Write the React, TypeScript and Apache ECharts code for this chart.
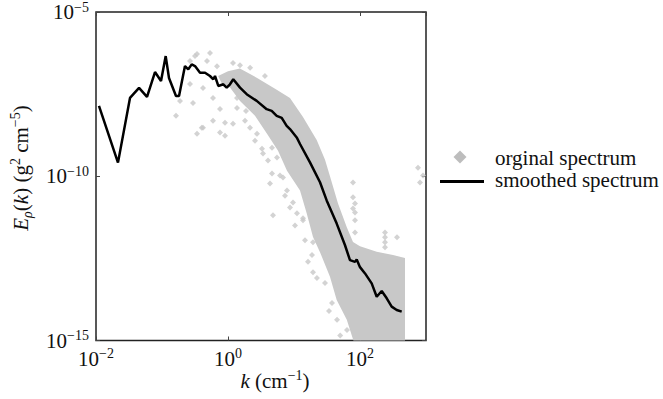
import React, { useEffect, useRef } from 'react';
import * as echarts from 'echarts';

// All values are log10 exponents.
// Smoothed spectrum: log10(k) and log10(E)
const smoothLogK = [
  -1.955, -1.667, -1.485, -1.348, -1.227, -1.106, -1.015, -0.944, -0.894, -0.788,
  -0.742, -0.652, -0.602, -0.55, -0.5, -0.424, -0.348, -0.273, -0.223, -0.197,
  -0.147, -0.071, -0.02, 0.03, 0.08, 0.182, 0.283, 0.435, 0.586, 0.662,
  0.738, 0.814, 0.889, 0.939, 1.041, 1.091, 1.242, 1.394, 1.495, 1.647,
  1.773, 1.848, 1.924, 1.95, 2.0, 2.076, 2.177, 2.253, 2.329, 2.405,
  2.48, 2.556, 2.632,
];
const smoothLogE = [
  -7.858, -9.585, -7.615, -7.312, -7.585, -6.827, -7.1, -6.342, -7.009, -7.555,
  -7.555, -6.645, -6.745, -6.594, -6.645, -6.848, -6.848, -6.948, -7.048, -6.948,
  -7.252, -7.2, -7.303, -7.2, -7.048, -7.303, -7.503, -7.706, -7.958, -8.009,
  -8.161, -8.221, -8.464, -8.564, -8.818, -9.018, -9.576, -10.182, -10.736, -11.442,
  -12.1, -12.555, -12.606, -12.533, -12.767, -12.958, -13.261, -13.667, -13.494, -13.715,
  -13.97, -14.07, -14.121,
];

// Outline of the dense cloud of original spectrum points (upper edge, then lower edge back)
const bandLogK = [
  -0.15, 0.0, 0.18, 0.435, 0.738, 0.939, 1.136, 1.344, 1.47, 1.545,
  1.667, 1.8, 1.894, 2.0, 2.253, 2.5, 2.682, 2.682, 1.9, 1.8,
  1.647, 1.545, 1.394, 1.288, 1.192, 1.091, 0.894, 0.758, 0.591, 0.409,
  0.182, 0.03, -0.1,
];
const bandLogE = [
  -6.95, -6.8, -6.72, -7.0, -7.37, -7.62, -8.2, -8.9, -9.5, -10.0,
  -10.83, -11.55, -12.0, -12.13, -12.3, -12.4, -12.49, -15.0, -15.0, -14.37,
  -13.77, -13.06, -12.31, -11.85, -11.13, -10.43, -9.83, -9.22, -8.71, -8.16,
  -7.71, -7.3, -7.15,
];

// Sparse original spectrum points outside the dense cloud
const scatterLogK = [
  -0.788, -0.53, -0.379, -0.227, -0.121, -0.045, 0.076, -0.379, -0.227, 0.136,
  -0.5, -0.318, -0.167, -0.576, -0.47, -0.045, 0.636, 0.667, 0.742, 1.894,
  1.894, 0.667, 0.439, 0.333, 0.53, -0.576, -0.47, 1.924, 1.924, 1.924,
  1.924, 2.379, 2.379, 2.379, 2.379, 2.561, 2.955, 2.879, 2.909, 0.833,
  0.985, 1.045, 1.136, 0.894, 1.288, 1.273, 1.288, 1.47, 1.576, 1.652,
  1.803, 0.682, 0.939, 1.136, 1.894, 0.273, 0.136, 0.076, 0.182, -0.273,
  -0.727, -0.121, -0.398, 0.258, 0.409, 0.515, 0.606, 0.788, 0.864, 1.015,
  1.167, 1.212, 1.348, 1.53, 1.7, 0.335, 0.56,
];
const scatterLogE = [
  -8.16, -7.77, -8.52, -8.31, -7.95, -8.37, -8.4, -7.31, -7.62, -7.92,
  -6.34, -6.49, -6.65, -7.19, -8.71, -8.77, -10.22, -9.92, -9.43, -10.19,
  -10.64, -9.13, -8.71, -8.52, -9.31, -6.49, -6.28, -10.83, -11.1, -11.34,
  -11.71, -11.71, -11.86, -12.01, -12.16, -11.86, -9.98, -9.74, -10.19, -10.04,
  -10.8, -11.13, -11.28, -10.43, -12.01, -12.4, -12.92, -13.25, -13.86, -14.37,
  -14.68, -11.19, -10.95, -11.34, -10.98, -8.01, -7.62, -6.55, -6.62, -6.25,
  -7.71, -8.67, -8.52, -8.31, -8.92, -9.16, -9.52, -9.98, -10.59, -11.5,
  -11.95, -12.6, -13.1, -14.1, -14.85, -6.7, -6.95,
];

const xTickExps = [-2, 0, 2];
const yTickExps = [-5, -10, -15];
const legendNames = ['orginal spectrum', 'smoothed spectrum'];

const SERIF = '"Liberation Serif", "Times New Roman", serif';
const INK = '#111';
const GREY = '#c8c8c8';

const expText = (e: number) => (e < 0 ? '\u2212' + Math.abs(e) : String(e));

const tickRich = {
  b: { fontFamily: SERIF, fontSize: 21, lineHeight: 24, color: INK },
  s: { fontFamily: SERIF, fontSize: 14, lineHeight: 14, color: INK, verticalAlign: 'top' },
};

export default function App() {
  const ref = useRef<HTMLDivElement>(null);

  useEffect(() => {
    if (!ref.current) return;
    const chart = echarts.init(ref.current, undefined, { renderer: 'svg' });

    const fmt = (list: number[]) => (v: number) => {
      const e = Math.round(v);
      if (Math.abs(v - e) > 1e-6 || list.indexOf(e) < 0) return '';
      return `{b|10}{s|${expText(e)}}`;
    };

    const baseAxis = {
      type: 'value',
      axisLine: { show: false, onZero: false },
      splitLine: { show: false },
      axisTick: { inside: true, length: 4, lineStyle: { color: '#444', width: 1 } },
    };

    const option: any = {
      animation: false,
      backgroundColor: '#fff',
      grid: {
        left: 96, top: 10.5, width: 330, height: 330,
        show: true, borderColor: '#222', borderWidth: 1.5, backgroundColor: 'transparent',
      },
      xAxis: [
        {
          ...baseAxis, position: 'bottom', min: -2, max: 3, interval: 2,
          axisLabel: { formatter: fmt(xTickExps), rich: tickRich, margin: 6, showMaxLabel: false },
        },
        {
          ...baseAxis, position: 'top', min: -2, max: 3, interval: 2,
          axisLabel: { show: false },
        },
      ],
      yAxis: [
        {
          ...baseAxis, position: 'left', min: -15, max: -5, interval: 5,
          axisLabel: { formatter: fmt(yTickExps), rich: tickRich, margin: 7 },
        },
        {
          ...baseAxis, position: 'right', min: -15, max: -5, interval: 5,
          axisLabel: { show: false },
        },
      ],
      series: [
        {
          type: 'custom',
          name: legendNames[0],
          z: 1,
          silent: true,
          data: bandLogK.map((k, i) => [k, bandLogE[i]]),
          renderItem: (params: any, api: any) => {
            if (params.dataIndex !== 0) return null;
            const pts = bandLogK.map((k, i) => api.coord([k, bandLogE[i]]));
            return { type: 'polygon', shape: { points: pts }, style: { fill: GREY } };
          },
        },
        {
          type: 'scatter',
          name: legendNames[0],
          z: 2,
          symbol: 'diamond',
          symbolSize: 6,
          itemStyle: { color: GREY },
          data: scatterLogK.map((k, i) => [k, scatterLogE[i]]),
        },
        {
          type: 'line',
          name: legendNames[1],
          z: 3,
          showSymbol: false,
          symbol: 'none',
          lineStyle: { color: '#000', width: 2.5 },
          data: smoothLogK.map((k, i) => [k, smoothLogE[i]]),
        },
      ],
      graphic: [
        {
          type: 'text',
          x: 21, y: 168,
          rotation: Math.PI / 2,
          style: {
            text: '{i|E}{sub|\u03C1}{n|(}{i|k}{n|) (g}{sup|2}{n| cm}{sup|\u22125}{n|)}',
            align: 'center',
            verticalAlign: 'middle',
            fill: INK,
            rich: {
              i: { fontFamily: SERIF, fontSize: 21, fontStyle: 'italic', lineHeight: 26, fill: INK },
              n: { fontFamily: SERIF, fontSize: 21, lineHeight: 26, fill: INK },
              sub: { fontFamily: SERIF, fontSize: 14, fontStyle: 'italic', lineHeight: 14, verticalAlign: 'bottom', fill: INK },
              sup: { fontFamily: SERIF, fontSize: 14, lineHeight: 14, verticalAlign: 'top', fill: INK },
            },
          },
        },
        {
          type: 'text',
          x: 275, y: 381,
          style: {
            text: '{i|k}{n| (cm}{sup|\u22121}{n|)}',
            align: 'center',
            verticalAlign: 'middle',
            fill: INK,
            rich: {
              i: { fontFamily: SERIF, fontSize: 21, fontStyle: 'italic', lineHeight: 26, fill: INK },
              n: { fontFamily: SERIF, fontSize: 21, lineHeight: 26, fill: INK },
              sup: { fontFamily: SERIF, fontSize: 14, lineHeight: 14, verticalAlign: 'top', fill: INK },
            },
          },
        },
        {
          type: 'polygon',
          shape: { points: [[460, 150.5], [466.5, 157], [460, 163.5], [453.5, 157]] },
          style: { fill: '#bdbdbd' },
        },
        {
          type: 'line',
          shape: { x1: 440, y1: 181.5, x2: 484, y2: 181.5 },
          style: { stroke: '#000', lineWidth: 3 },
        },
        {
          type: 'text',
          x: 495, y: 158,
          style: { text: legendNames[0], font: `21px ${SERIF}`, fill: INK, verticalAlign: 'middle' },
        },
        {
          type: 'text',
          x: 495, y: 180,
          style: { text: legendNames[1], font: `21px ${SERIF}`, fill: INK, verticalAlign: 'middle' },
        },
      ],
    };

    chart.setOption(option);
    return () => chart.dispose();
  }, []);

  return (
    <div
      ref={ref}
      style={{ position: 'fixed', left: 0, top: 0, width: 663, height: 399, background: '#fff' }}
    />
  );
}
